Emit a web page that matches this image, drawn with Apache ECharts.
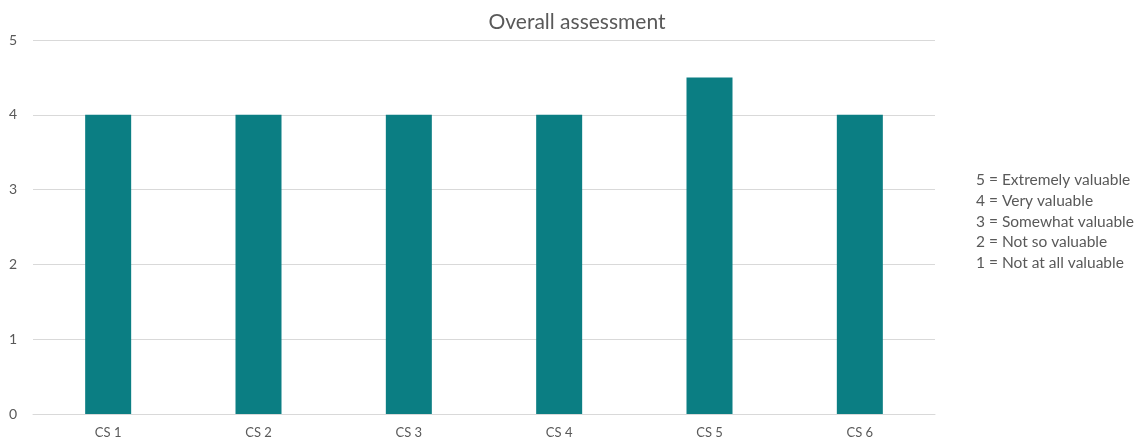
<!DOCTYPE html>
<html><head><meta charset="utf-8">
<script src="https://cdn.jsdelivr.net/npm/echarts@6/dist/echarts.min.js"></script>
<style>html,body{margin:0;padding:0;background:#fff}#c{width:1142px;height:441px}</style>
</head><body><div id="c"></div>
<script>
const categories = ["CS 1","CS 2","CS 3","CS 4","CS 5","CS 6"];
const values = [4, 4, 4, 4, 4.5, 4];
const scaleNotes = ["5 = Extremely valuable","4 = Very valuable","3 = Somewhat valuable","2 = Not so valuable","1 = Not at all valuable"];
const chartTitle = "Overall assessment";

const font = "Lato, 'Open Sans', sans-serif";
const chart = echarts.init(document.getElementById('c'), null, {renderer:'canvas'});
chart.setOption({
  animation:false,
  title:{text:chartTitle,left:572,top:7,textAlign:'center',textStyle:{fontFamily:font,fontSize:21,fontWeight:'normal',color:'#595959'}},
  grid:{left:33,right:207,top:40,bottom:27},
  xAxis:{type:'category',data:categories,axisLine:{lineStyle:{color:'#d9d9d9',width:1}},axisTick:{show:false},
    axisLabel:{fontFamily:font,fontSize:13,color:'#595959',margin:12}},
  yAxis:{type:'value',min:0,max:5,interval:1,axisLine:{show:false},axisTick:{show:false},
    splitLine:{lineStyle:{color:'#d9d9d9',width:1}},
    axisLabel:{fontFamily:font,fontSize:14,color:'#595959',margin:16,align:'right'}},
  series:[{type:'bar',data:values,barWidth:46,itemStyle:{color:'#0b7e83'}}],
  graphic:[{type:'text',left:976,top:170,style:{text:scaleNotes.join('\n'),fontFamily:font,fontSize:15.5,lineHeight:20.7,fill:'#595959'}}]
});
</script></body></html>
